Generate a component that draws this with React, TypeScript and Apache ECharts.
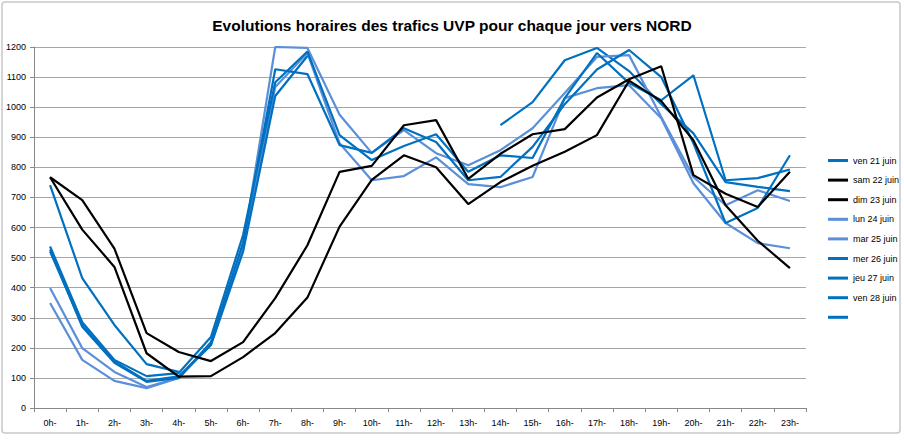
import React, { useEffect, useRef } from "react";
import * as echarts from "echarts";

const hours: string[] = Array.from({ length: 24 }, (_, i) => `${i}h-`);
const yTicks = { min: 0, max: 1200, interval: 100 };

const seriesNames: string[] = [
  "ven 21 juin",
  "sam 22 juin",
  "dim 23 juin",
  "lun 24 juin",
  "mar 25 juin",
  "mer 26 juin",
  "jeu 27 juin",
  "ven 28 juin",
  " ",
];

const ven21: (number | null)[] = [null, null, null, null, null, null, null, null, null, null, null, null, null, null, 940, 1017, 1156, 1197, 1120, 1010, 913, 751, 735, 721];
const sam22: (number | null)[] = [767, 691, 530, 249, 186, 156, 219, 365, 541, 785, 805, 940, 957, 762, 845, 910, 927, 1032, 1093, 1136, 774, 712, 668, 785];
const dim23: (number | null)[] = [767, 593, 469, 182, 104, 106, 169, 249, 367, 603, 758, 840, 800, 678, 751, 805, 852, 907, 1088, 1020, 890, 674, 556, 465];
const lun24: (number | null)[] = [349, 160, 90, 66, 100, 210, 540, 1200, 1197, 975, 848, 924, 847, 807, 857, 930, 1047, 1167, 1173, 967, 768, 674, 724, 688];
const mar25: (number | null)[] = [399, 199, 120, 70, 100, 215, 530, 1067, 1180, 880, 757, 771, 833, 744, 734, 768, 1030, 1063, 1073, 963, 747, 615, 548, 531];
const mer26: (number | null)[] = [537, 285, 160, 106, 116, 236, 575, 1083, 1185, 907, 824, 871, 910, 785, 840, 831, 1030, 1180, 1080, 1023, 1106, 757, 764, 793];
const jeu27: (number | null)[] = [527, 270, 150, 87, 100, 219, 550, 1126, 1110, 874, 848, 930, 884, 757, 768, 868, 1010, 1125, 1190, 1100, 880, 615, 665, 840];
const ven28: (number | null)[] = [520, 275, 155, 90, 105, 209, 520, 1037, 1170, null, null, null, null, null, null, null, null, null, null, null, null, null, null, null];
const sam29: (number | null)[] = [741, 432, 276, 146, 120, null, null, null, null, null, null, null, null, null, null, null, null, null, null, null, null, null, null, null];

const seriesData = [ven21, sam22, dim23, lun24, mar25, mer26, jeu27, ven28, sam29];

const DARK = "#0070C0";
const LIGHT = "#5B8FD9";
const BLACK = "#000000";
const seriesColors = [DARK, BLACK, BLACK, LIGHT, LIGHT, DARK, DARK, DARK, DARK];

const FONT = "Liberation Sans";

export default function App() {
  const ref = useRef<HTMLDivElement>(null);
  useEffect(() => {
    if (!ref.current) return;
    const chart = echarts.init(ref.current, null, { renderer: "svg" });
    chart.setOption({
      animation: false,
      backgroundColor: "#ffffff",
      title: {
        text: "Evolutions horaires des trafics UVP pour chaque jour vers NORD",
        left: "center",
        top: 12,
        textStyle: { fontFamily: FONT, fontSize: 15.5, fontWeight: "bold", color: "#000" },
      },
      graphic: [
        {
          type: "rect",
          shape: { x: 2, y: 2, width: 898, height: 431, r: 3 },
          style: { fill: "none", stroke: "#c8c8c8", lineWidth: 1.5 },
          silent: true,
        },
      ],
      legend: {
        orient: "vertical",
        left: 823,
        top: 151,
        icon: "rect",
        itemWidth: 20,
        itemHeight: 3,
        itemGap: 10.6,
        data: seriesNames,
        textStyle: { fontFamily: FONT, fontSize: 9, color: "#000" },
      },
      grid: { left: 34, right: 98, top: 47, bottom: 32 },
      xAxis: {
        type: "category",
        data: hours,
        boundaryGap: true,
        axisLine: { lineStyle: { color: "#888", width: 1 } },
        axisTick: { show: true, interval: 0, length: 4, lineStyle: { color: "#888" } },
        axisLabel: { interval: 0, fontFamily: FONT, fontSize: 9, color: "#000", margin: 10 },
        splitLine: { show: false },
      },
      yAxis: {
        type: "value",
        min: yTicks.min,
        max: yTicks.max,
        interval: yTicks.interval,
        axisLine: { show: true, lineStyle: { color: "#888", width: 1 } },
        axisTick: { show: true, length: 4, lineStyle: { color: "#888" } },
        axisLabel: {
          fontFamily: FONT,
          fontSize: 9,
          color: "#000",
          margin: 8,
          formatter: (v: number) => String(v),
        },
        splitLine: { show: true, lineStyle: { color: "#a6a6a6", width: 1.2 } },
      },
      series: seriesNames.map((name, i) => ({
        name,
        type: "line",
        data: seriesData[i],
        showSymbol: false,
        symbol: "none",
        connectNulls: false,
        color: seriesColors[i],
        lineStyle: { color: seriesColors[i], width: 2.2 },
        z: seriesColors[i] === BLACK ? 3 : 2,
      })),
    });
    return () => chart.dispose();
  }, []);
  return (
    <div
      ref={ref}
      style={{ position: "absolute", left: 0, top: 0, width: 904, height: 440 }}
    />
  );
}
